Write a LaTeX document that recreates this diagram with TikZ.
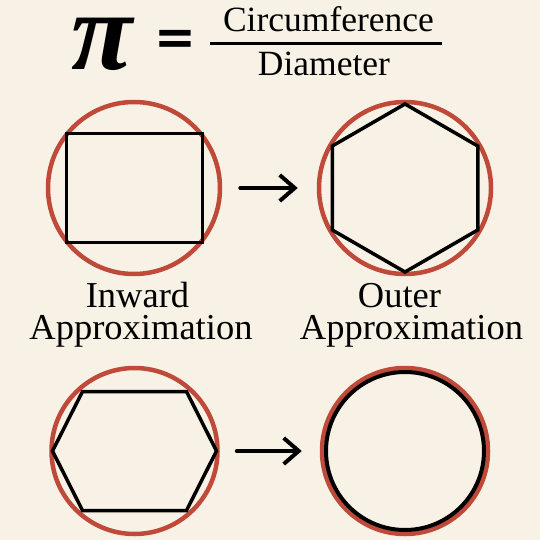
\documentclass[tikz,border=0pt]{standalone}
\usepackage{fontspec}
\setmainfont{Liberation Serif}
\newfontfamily\eqfont{DejaVu Sans}
\usetikzlibrary{arrows.meta}
\definecolor{paper}{RGB}{248,242,230}
\definecolor{rim}{RGB}{192,74,58}
\tikzset{ring/.style={circle, draw=rim, line width=4.5pt, minimum size=#1, inner sep=0pt},
  poly/.style={draw=black, line width=3.5pt, line join=miter},
  arr/.style={-{Straight Barb[length=15pt, width=26pt]}, line width=4pt, line cap=round, line join=round},
  word/.style={font=\fontsize{36.5}{36.5}\selectfont, anchor=base, inner sep=0pt, text height=0.7em, text depth=0.22em},
  topword/.style={word, text depth=0pt}}
\newcommand{\fracword}{\fontsize{35.5}{35.5}\selectfont}

\begin{document}
\begin{tikzpicture}[x=1pt, y=-1pt]
\useasboundingbox[fill=paper] (0,0) rectangle (540,540);
% title
\node[anchor=base, inner sep=0pt, text height=0.47em, text depth=0pt, font=\bfseries\itshape\fontsize{112}{112}\selectfont] (pi) at (102,70) {π};
\node[inner sep=0pt, font=\eqfont\bfseries\fontsize{50}{50}\selectfont] (eq) at (175,42) {=};
\node[anchor=base, inner sep=0pt, font=\fracword] (num) at (328.5,32) {Circumference};
\node[anchor=base, inner sep=0pt, font=\fracword] (den) at (324,76) {Diameter};
\coordinate (barL) at (210,43.5);
\coordinate (barR) at (442,43.5);
\draw[line width=3.5pt] (barL) -- (barR);
% circles
\node[ring=172pt] (c1) at (134,188) {};
\node[ring=172pt] (c2) at (405,188) {};
\node[ring=166pt] (c3) at (134.5,451) {};
\node[ring=166pt] (c4) at (405,451) {};
% polygons
\draw[poly] (66.7,133.3) rectangle (202.3,242.7);
\draw[poly, shift={(405,188)}] (90:84) -- (150:84) -- (210:84) -- (270:84) -- (330:84) -- (30:84) -- cycle;
\draw[poly, shift={(134.5,451)}] (-82,0) -- (-52,-59.5) -- (52,-59.5) -- (82,0) -- (52,59.5) -- (-52,59.5) -- cycle;
\draw[black, line width=4pt] (405,451) circle (79);
% arrows
\draw[arr, shorten <=18pt, shorten >=19pt] (c1) -- (c2);
\draw[arr, shorten <=17pt, shorten >=18pt] (c3) -- (c4);
% labels
\node[topword] (in1) at (137.5,307) {Inward};
\node[word] (in2) at (141,339) {Approximation};
\node[topword] (out1) at (399.5,307) {Outer};
\node[word] (out2) at (411.5,339) {Approximation};
\end{tikzpicture}
\end{document}
